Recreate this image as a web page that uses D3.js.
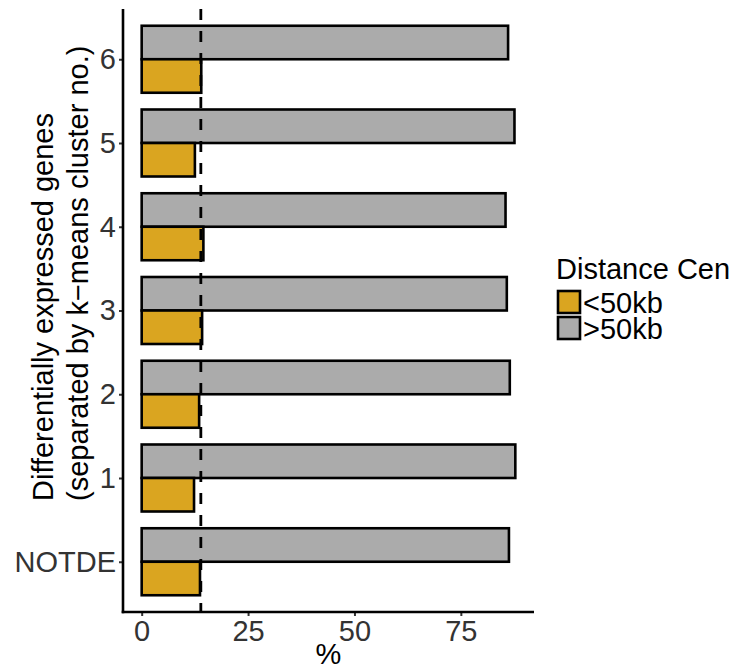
<!DOCTYPE html>
<html>
<head>
<meta charset="utf-8">
<script src="https://cdn.jsdelivr.net/npm/d3@7"></script>
<style>
  html, body { margin: 0; padding: 0; background: #fff; }
  svg { display: block; }
  text { font-family: "Liberation Sans", Arial, sans-serif; }
</style>
</head>
<body>
<div id="chart"></div>
<script>
// ---- Data ----
const categories = ["6", "5", "4", "3", "2", "1", "NOTDE"];
const seriesNames = [">50kb", "<50kb"];
const over50kb = [86.1, 87.6, 85.5, 85.8, 86.5, 87.8, 86.3];
const under50kb = [14.0, 12.5, 14.5, 14.2, 13.5, 12.3, 13.7];
const referenceLine = 13.9;
const xTicks = [0, 25, 50, 75];
const legendTitle = "Distance Cen";
const legendLabels = ["<50kb", ">50kb"];
const yTitleLines = ["Differentially expressed genes", "(separated by k\u2212means cluster no.)"];
const xTitle = "%";

const colors = { "<50kb": "#DAA520", ">50kb": "#ABABAB" };

const W = 748, H = 670;
const panel = { left: 123, right: 534, top: 9, bottom: 612 };

const svg = d3.select("#chart").append("svg")
  .attr("width", W).attr("height", H);

const maxV = d3.max(over50kb.concat(under50kb));
const x = d3.scaleLinear()
  .domain([-0.05 * maxV, maxV * 1.05])
  .range([panel.left, panel.right]);

const y = d3.scalePoint()
  .domain(categories)
  .range([panel.top, panel.bottom])
  .padding(0.6);

const step = y.step();
const barH = step * 0.8 / 2;

const rows = [];
categories.forEach((c, i) => {
  rows.push({ cat: c, series: ">50kb", value: over50kb[i], slot: 0 });
  rows.push({ cat: c, series: "<50kb", value: under50kb[i], slot: 1 });
});

// Bars
svg.append("g").selectAll("rect").data(rows).enter().append("rect")
  .attr("x", d => x(0))
  .attr("y", d => y(d.cat) - barH + d.slot * barH)
  .attr("width", d => x(d.value) - x(0))
  .attr("height", barH)
  .attr("fill", d => colors[d.series])
  .attr("stroke", "#000")
  .attr("stroke-width", 2.6);

// Reference dashed line
svg.append("line")
  .attr("x1", x(referenceLine)).attr("x2", x(referenceLine))
  .attr("y1", panel.top).attr("y2", panel.bottom)
  .attr("stroke", "#000")
  .attr("stroke-width", 2.8)
  .attr("stroke-dasharray", "11,11");

// X axis
const xAxis = svg.append("g")
  .attr("transform", `translate(0,${panel.bottom})`)
  .call(d3.axisBottom(x).tickValues(xTicks).tickSize(4).tickPadding(4).tickSizeOuter(0));
xAxis.select(".domain").remove();
xAxis.selectAll(".tick line").attr("stroke", "#333").attr("stroke-width", 2);
xAxis.selectAll(".tick text")
  .attr("fill", "#333").attr("font-size", 29)
  .attr("font-family", "Liberation Sans, Arial, sans-serif");

// Y axis
const yAxis = svg.append("g")
  .attr("transform", `translate(${panel.left},0)`)
  .call(d3.axisLeft(y).tickSize(4).tickPadding(3).tickSizeOuter(0));
yAxis.select(".domain").remove();
yAxis.selectAll(".tick line").attr("stroke", "#333").attr("stroke-width", 2);
yAxis.selectAll(".tick text")
  .attr("fill", "#333").attr("font-size", 29)
  .attr("font-family", "Liberation Sans, Arial, sans-serif");

// Axis lines
svg.append("line")
  .attr("x1", panel.left).attr("x2", panel.left)
  .attr("y1", panel.top).attr("y2", panel.bottom + 1.3)
  .attr("stroke", "#000").attr("stroke-width", 2.6);
svg.append("line")
  .attr("x1", panel.left - 1.3).attr("x2", panel.right)
  .attr("y1", panel.bottom).attr("y2", panel.bottom)
  .attr("stroke", "#000").attr("stroke-width", 2.6);

// X title
svg.append("text")
  .attr("x", (panel.left + panel.right) / 2)
  .attr("y", 664)
  .attr("text-anchor", "middle")
  .attr("font-size", 29)
  .attr("fill", "#000")
  .text(xTitle);

// Y title (two lines, rotated)
const yTitleX = [53, 88];
yTitleLines.forEach((t, i) => {
  svg.append("text")
    .attr("transform", `translate(${yTitleX[i]},501) rotate(-90)`)
    .attr("text-anchor", "start")
    .attr("font-size", 29)
    .attr("fill", "#000")
    .text(t);
});

// Legend
const lg = svg.append("g").attr("transform", "translate(557,0)");
lg.append("text")
  .attr("x", -1).attr("y", 279)
  .attr("font-size", 29)
  .attr("fill", "#000")
  .text(legendTitle);
legendLabels.forEach((lab, i) => {
  const top = 291 + i * 26;
  lg.append("rect")
    .attr("x", 1).attr("y", top)
    .attr("width", 22).attr("height", 22)
    .attr("fill", colors[lab])
    .attr("stroke", "#000").attr("stroke-width", 2.6);
  lg.append("text")
    .attr("x", 26).attr("y", top + 22)
    .attr("font-size", 29)
    .attr("fill", "#000")
    .text(lab);
});
</script>
</body>
</html>
